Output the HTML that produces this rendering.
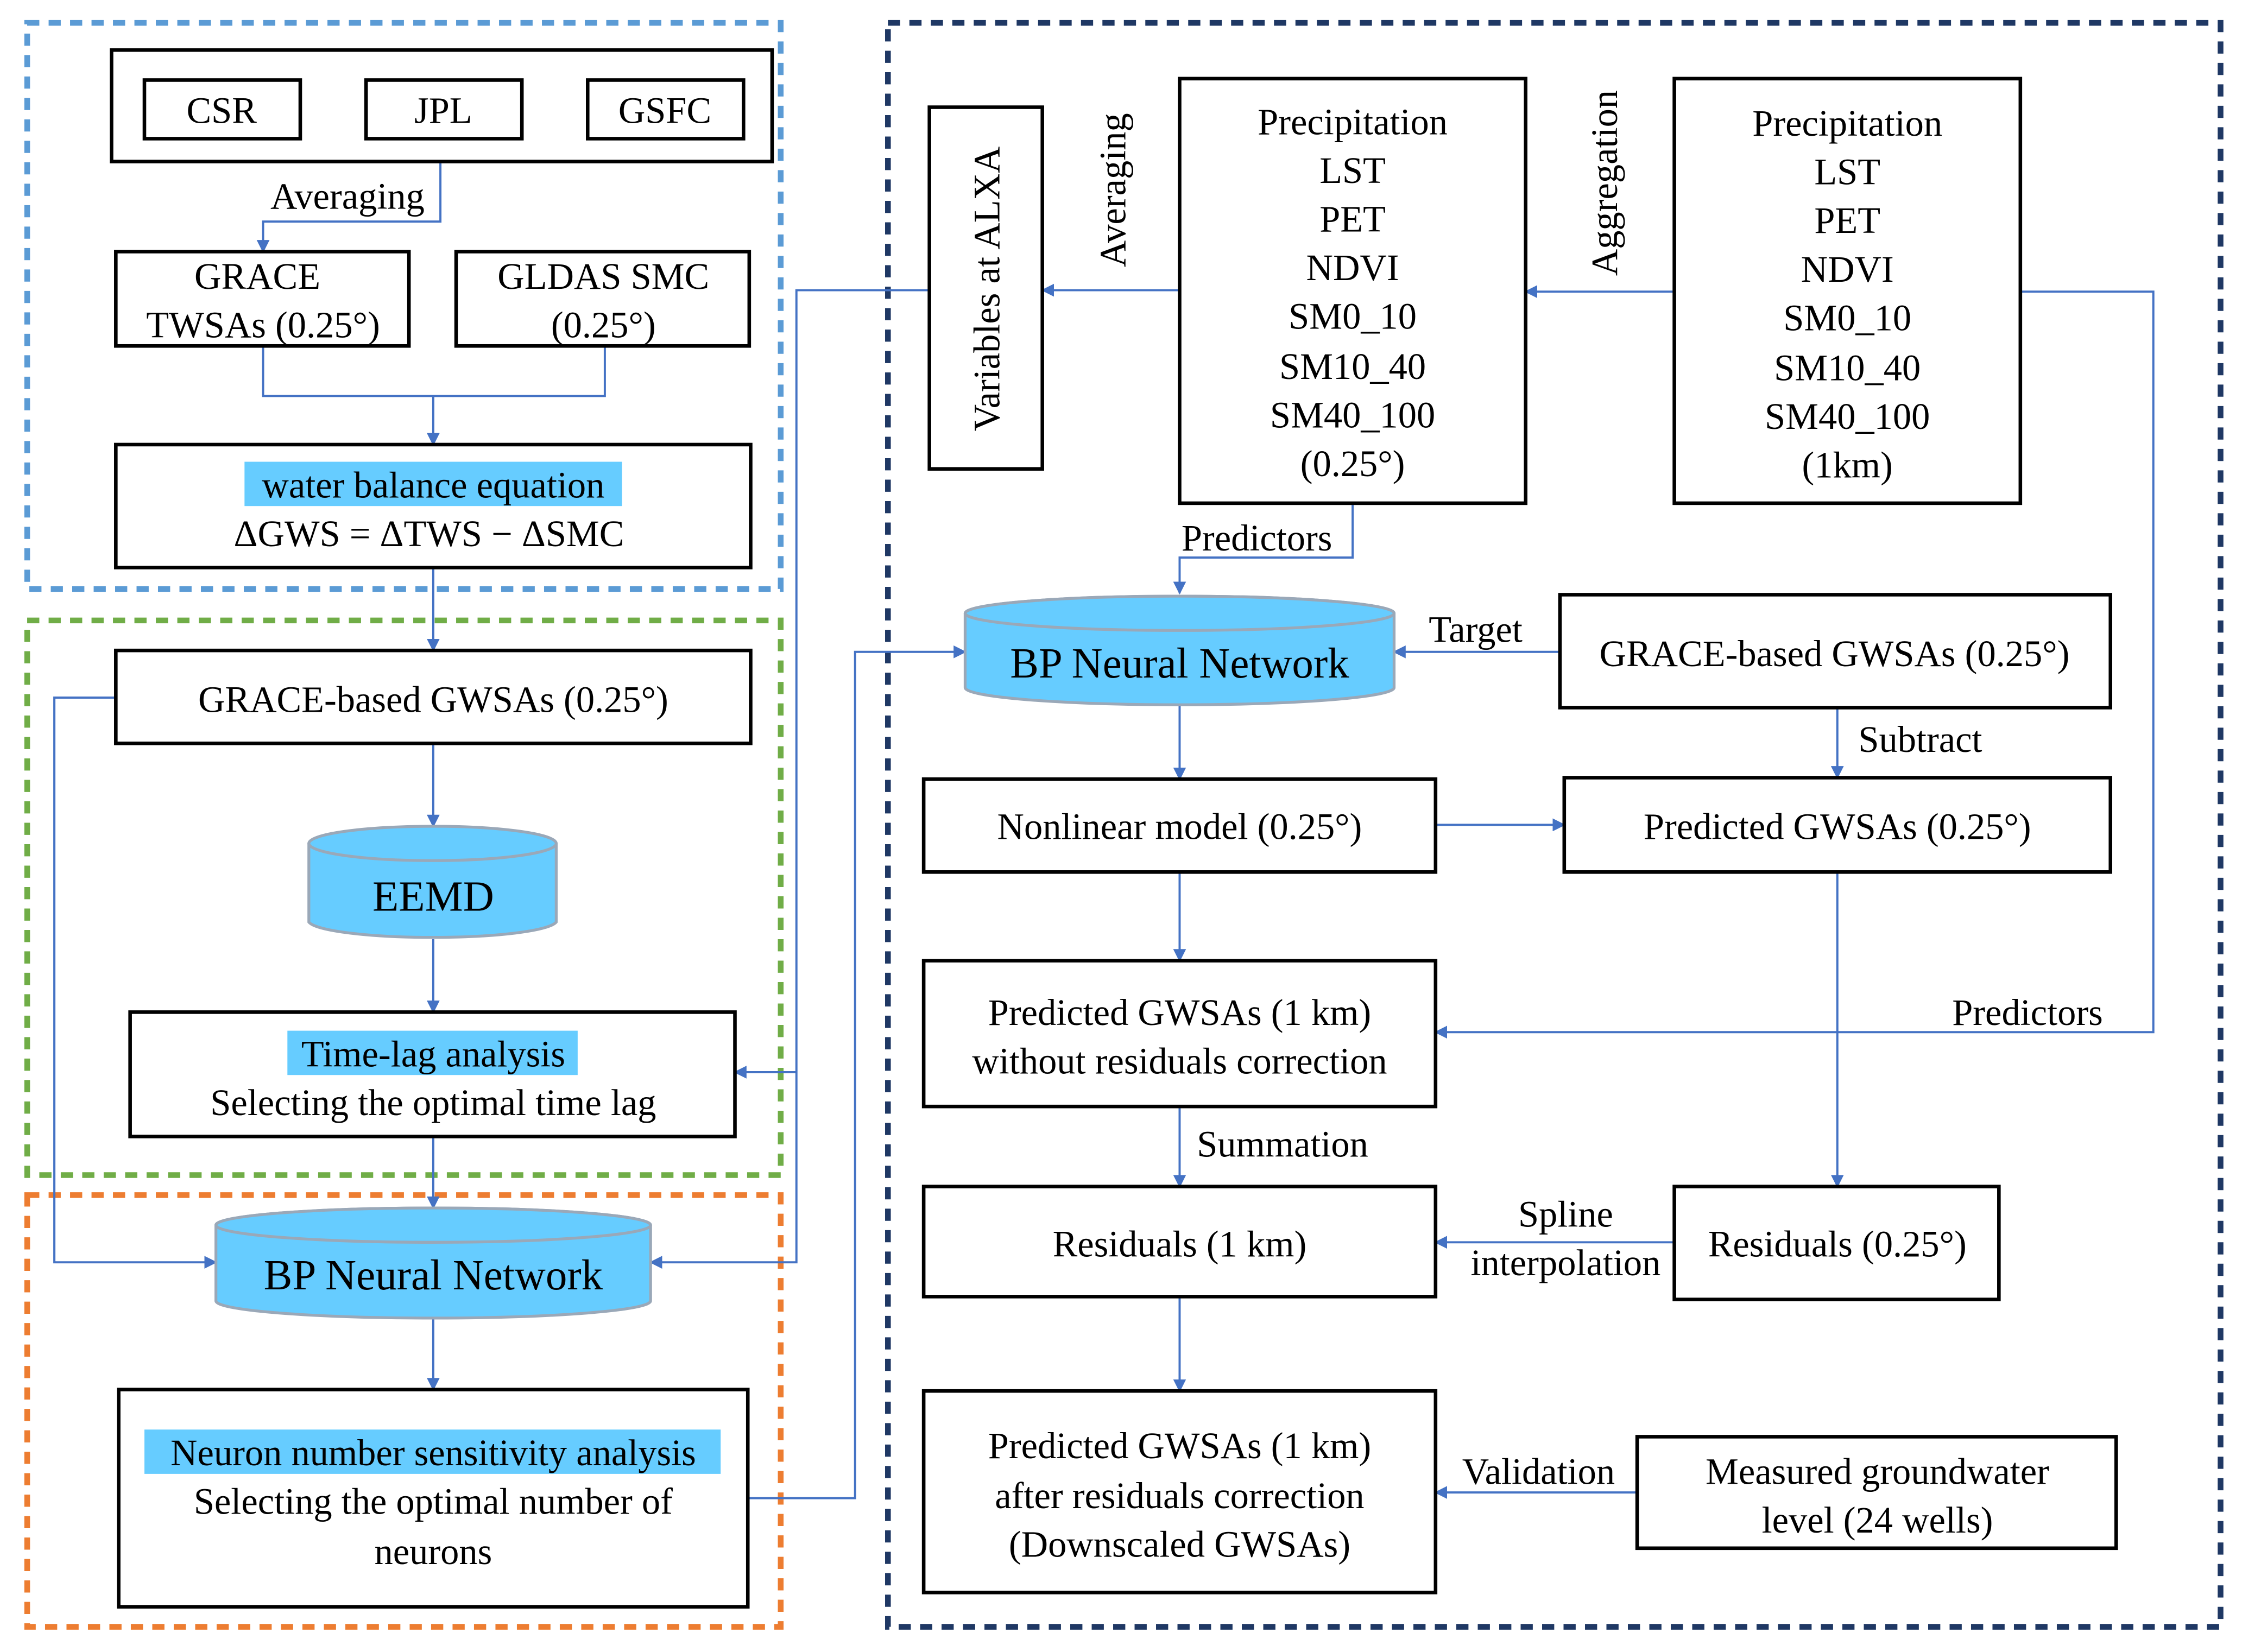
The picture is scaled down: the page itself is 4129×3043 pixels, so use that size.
<!DOCTYPE html>
<html><head><meta charset="utf-8"><style>html,body{margin:0;padding:0;background:#fff}svg{display:block}svg text{font-family:"Liberation Serif","Noto Serif CJK SC","DejaVu Serif",serif}</style></head>
<body>
<svg xmlns="http://www.w3.org/2000/svg" width="4129" height="3043" viewBox="0 0 1568 1155.6" font-size="26" text-anchor="middle">
<defs>
<marker id="a" viewBox="0 0 10 10" refX="9" refY="5" markerWidth="9" markerHeight="9" markerUnits="userSpaceOnUse" orient="auto"><path d="M0,0 L10,5 L0,10 z" fill="#4472C4"/></marker>
</defs>
<rect width="1568" height="1156" fill="#fff"/>
<g fill="none" stroke-width="4" stroke-dasharray="8.5 6.5">
<rect x="19" y="16" width="527" height="396" stroke="#5B9BD5"/>
<rect x="19" y="434" width="527" height="388" stroke="#70AD47"/>
<rect x="19" y="836" width="527" height="302" stroke="#ED7D31"/>
<rect x="621" y="16" width="932" height="1122" stroke="#1F3864"/>
</g>
<g fill="none" stroke="#4472C4" stroke-width="1.5">
<path d="M308,113 V155 H184 V176" marker-end="url(#a)"/>
<path d="M184,242 V277 H423 V242"/>
<path d="M303,277 V311" marker-end="url(#a)"/>
<path d="M303,397 V455" marker-end="url(#a)"/>
<path d="M303,520 V578" marker-end="url(#a)"/>
<path d="M303,657 V708" marker-end="url(#a)"/>
<path d="M303,795 V845" marker-end="url(#a)"/>
<path d="M81,488 H38 V883 H151" marker-end="url(#a)"/>
<path d="M650,203 H557 V883 H455" marker-end="url(#a)"/>
<path d="M557,750 H514" marker-end="url(#a)"/>
<path d="M303,922 V972" marker-end="url(#a)"/>
<path d="M523,1048 H598 V456 H675" marker-end="url(#a)"/>
<path d="M825,203 H729" marker-end="url(#a)"/>
<path d="M1171,204 H1067" marker-end="url(#a)"/>
<path d="M1413,204 H1506 V722 H1004" marker-end="url(#a)"/>
<path d="M946,352 V390 H825 V415" marker-end="url(#a)"/>
<path d="M1091,456 H975" marker-end="url(#a)"/>
<path d="M825,493 V545" marker-end="url(#a)"/>
<path d="M1004,577 H1094" marker-end="url(#a)"/>
<path d="M1285,495 V544" marker-end="url(#a)"/>
<path d="M825,610 V672" marker-end="url(#a)"/>
<path d="M825,774 V830" marker-end="url(#a)"/>
<path d="M1285,610 V830" marker-end="url(#a)"/>
<path d="M1171,869 H1004" marker-end="url(#a)"/>
<path d="M825,907 V973" marker-end="url(#a)"/>
<path d="M1145,1044 H1004" marker-end="url(#a)"/>
</g>
<g fill="#fff" stroke="#000" stroke-width="2.5">
<rect x="78" y="35" width="462" height="78"/>
<rect x="101" y="56" width="109" height="41"/>
<rect x="256" y="56" width="109" height="41"/>
<rect x="411" y="56" width="109" height="41"/>
<rect x="81" y="176" width="205" height="66"/>
<rect x="319" y="176" width="205" height="66"/>
<rect x="81" y="311" width="444" height="86"/>
<rect x="81" y="455" width="444" height="65"/>
<rect x="91" y="708" width="423" height="87"/>
<rect x="83" y="972" width="440" height="152"/>
<rect x="650" y="75" width="79" height="253"/>
<rect x="825" y="55" width="242" height="297"/>
<rect x="1171" y="55" width="242" height="297"/>
<rect x="1091" y="416" width="385" height="79"/>
<rect x="646" y="545" width="358" height="65"/>
<rect x="1094" y="544" width="382" height="66"/>
<rect x="646" y="672" width="358" height="102"/>
<rect x="646" y="830" width="358" height="77"/>
<rect x="1171" y="830" width="227" height="79"/>
<rect x="646" y="973" width="358" height="141"/>
<rect x="1145" y="1005" width="335" height="78"/>
</g>
<g fill="#66CCFF" stroke="#9aa8b8" stroke-width="2">
<path d="M216,590 A87,12 0 0 1 389,590 V645 A87,12 0 0 1 216,645 Z"/>
<ellipse cx="302.5" cy="590" rx="86.5" ry="12"/>
<path d="M151,857 A152,12 0 0 1 455,857 V910 A152,12 0 0 1 151,910 Z"/>
<ellipse cx="303" cy="857" rx="152" ry="12"/>
<path d="M675,429 A150,12 0 0 1 975,429 V481 A150,12 0 0 1 675,481 Z"/>
<ellipse cx="825" cy="429" rx="150" ry="12"/>
</g>
<g fill="#66CCFF">
<rect x="171" y="323" width="264" height="31"/>
<rect x="201" y="721" width="203" height="31"/>
<rect x="101" y="1000" width="403" height="31"/>
</g>
<g fill="#000">
<text x="155" y="86">CSR</text><text x="310" y="86">JPL</text><text x="465" y="86">GSFC</text>
<text x="243" y="146">Averaging</text>
<text x="180" y="202">GRACE</text><text x="184" y="236">TWSAs (0.25°)</text>
<text x="422" y="202">GLDAS SMC</text><text x="422" y="236">(0.25°)</text>
<text x="303" y="348">water balance equation</text>
<text x="300" y="382">ΔGWS =  ΔTWS  −  ΔSMC</text>
<text x="303" y="498">GRACE-based GWSAs (0.25°)</text>
<text x="303" y="637" font-size="30">EEMD</text>
<text x="303" y="746">Time-lag analysis</text>
<text x="303" y="780">Selecting the optimal time lag</text>
<text x="303" y="902" font-size="30">BP Neural Network</text>
<text x="303" y="1025">Neuron number sensitivity analysis</text>
<text x="303" y="1059">Selecting the optimal number of</text>
<text x="303" y="1094">neurons</text>
<text transform="translate(699,202) rotate(-90)">Variables at ALXA</text>
<text transform="translate(787,133) rotate(-90)">Averaging</text>
<text transform="translate(1131,128) rotate(-90)">Aggregation</text>
<g>
<text x="946" y="94">Precipitation</text><text x="946" y="128">LST</text><text x="946" y="162">PET</text><text x="946" y="196">NDVI</text><text x="946" y="230">SM0_10</text><text x="946" y="265">SM10_40</text><text x="946" y="299">SM40_100</text><text x="946" y="333">(0.25°)</text>
<text x="1292" y="95">Precipitation</text><text x="1292" y="129">LST</text><text x="1292" y="163">PET</text><text x="1292" y="197">NDVI</text><text x="1292" y="231">SM0_10</text><text x="1292" y="266">SM10_40</text><text x="1292" y="300">SM40_100</text><text x="1292" y="334">(1km)</text>
</g>
<text x="879" y="385">Predictors</text>
<text x="825" y="474" font-size="30">BP Neural Network</text>
<text x="1032" y="449">Target</text>
<text x="1283" y="466">GRACE-based GWSAs (0.25°)</text>
<text x="1343" y="526">Subtract</text>
<text x="825" y="587">Nonlinear model (0.25°)</text>
<text x="1285" y="587">Predicted GWSAs (0.25°)</text>
<text x="1418" y="717">Predictors</text>
<text x="825" y="717">Predicted GWSAs (1 km)</text>
<text x="825" y="751">without residuals correction</text>
<text x="897" y="809">Summation</text>
<text x="825" y="879">Residuals (1 km)</text>
<text x="1285" y="879">Residuals (0.25°)</text>
<text x="1095" y="858">Spline</text>
<text x="1095" y="892">interpolation</text>
<text x="825" y="1020">Predicted GWSAs (1 km)</text>
<text x="825" y="1055">after residuals correction</text>
<text x="825" y="1089">(Downscaled GWSAs)</text>
<text x="1076" y="1038">Validation</text>
<text x="1313" y="1038">Measured groundwater</text>
<text x="1313" y="1072">level (24 wells)</text>
</g>
</svg>
</body></html>
